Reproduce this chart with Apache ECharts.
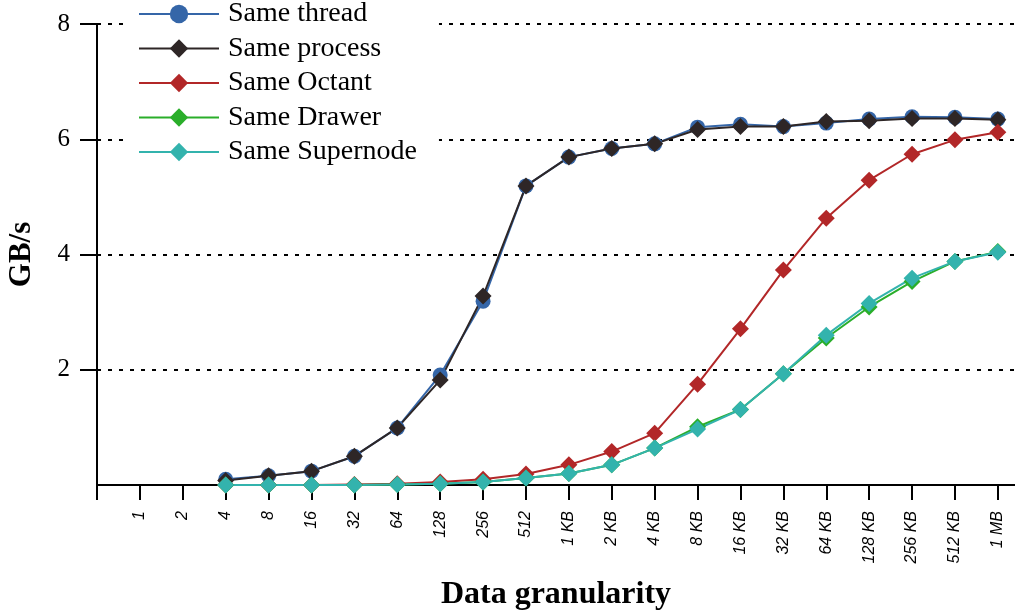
<!DOCTYPE html>
<html>
<head>
<meta charset="utf-8">
<script src="https://cdn.jsdelivr.net/npm/echarts@6/dist/echarts.min.js"></script>
<style>
  html, body { margin: 0; padding: 0; background: #fff; }
  #chart { width: 1015px; height: 613px; }
</style>
</head>
<body>
<div id="chart"></div>
<script>
// x categories (index 1..21 on the axis; index 0 is the empty slot at the y axis)
const sizes = ["1", "2", "4", "8", "16", "32", "64", "128", "256", "512",
  "1 KB", "2 KB", "4 KB", "8 KB", "16 KB", "32 KB", "64 KB", "128 KB", "256 KB", "512 KB", "1 MB"];

// GB/s, starting at "4" (index 3)
const sameThread = [0.10, 0.16, 0.24, 0.50, 0.99, 1.91, 3.19, 5.19, 5.69, 5.84, 5.92,
  6.21, 6.26, 6.22, 6.28, 6.35, 6.39, 6.38, 6.35];
const sameProcess = [0.08, 0.16, 0.24, 0.50, 0.99, 1.82, 3.28, 5.19, 5.69, 5.84, 5.92,
  6.17, 6.22, 6.22, 6.31, 6.32, 6.36, 6.36, 6.34];
const sameOctant = [0.00, 0.00, 0.00, 0.01, 0.02, 0.05, 0.10, 0.19, 0.35, 0.58, 0.90,
  1.75, 2.71, 3.73, 4.63, 5.29, 5.74, 5.99, 6.12];
const sameDrawer = [0.00, 0.00, 0.00, 0.00, 0.01, 0.02, 0.05, 0.12, 0.20, 0.35, 0.64,
  1.01, 1.31, 1.93, 2.55, 3.09, 3.53, 3.88, 4.05];
const sameSupernode = [0.00, 0.00, 0.00, 0.00, 0.01, 0.02, 0.05, 0.12, 0.20, 0.35, 0.64,
  0.97, 1.31, 1.93, 2.60, 3.15, 3.59, 3.88, 4.04];

const yTicks = [2, 4, 6, 8];
const firstIndex = 3;

function pairs(values) {
  return values.map((v, i) => [firstIndex + i, v]);
}

const SERIF = "'Liberation Serif', 'DejaVu Serif', serif";

function line(name, values, color, symbol, size) {
  return {
    name: name,
    type: "line",
    data: pairs(values),
    symbol: symbol,
    symbolSize: size,
    color: color,
    lineStyle: { width: 2, color: color },
    itemStyle: { color: color },
    emphasis: { disabled: true },
    z: 3,
  };
}

const chart = echarts.init(document.getElementById("chart"), null, { renderer: "canvas" });
chart.setOption({
  animation: false,
  backgroundColor: "#fff",
  grid: { left: 97, right: 0, top: 24, bottom: 128, containLabel: false, outerBoundsMode: "none" },
  legend: {
    left: 130,
    top: -2,
    orient: "vertical",
    backgroundColor: "#fff",
    padding: [2, 22, 6, 8],
    itemWidth: 80,
    itemHeight: 23,
    itemGap: 6.5,
    textStyle: { fontFamily: SERIF, fontSize: 28, lineHeight: 28, color: "#000", padding: [0, 0, 0, 4] },
    data: ["Same thread", "Same process", "Same Octant", "Same Drawer", "Same Supernode"],
    z: 10,
  },
  xAxis: {
    type: "value",
    min: 0,
    max: 21.4,
    interval: 1,
    axisLine: { lineStyle: { color: "#000", width: 2 } },
    axisTick: { show: true, length: 15, lineStyle: { color: "#000", width: 2 } },
    axisLabel: {
      rotate: 90,
      margin: 26,
      fontFamily: "'Liberation Sans', Arial, sans-serif",
      fontStyle: "italic",
      fontSize: 16,
      color: "#000",
      showMaxLabel: false,
      formatter: (v) => (v >= 1 && v <= sizes.length ? sizes[v - 1] : ""),
    },
    splitLine: { show: false },
    name: "Data granularity",
    nameLocation: "middle",
    nameGap: 94,
    nameTextStyle: { fontFamily: SERIF, fontSize: 32, fontWeight: "bold", color: "#000" },
  },
  yAxis: {
    type: "value",
    min: 0,
    max: 8,
    interval: 2,
    axisLine: { show: true, lineStyle: { color: "#000", width: 2 } },
    axisTick: { show: true, length: 17, customValues: yTicks, lineStyle: { color: "#000", width: 2 } },
    axisLabel: {
      customValues: yTicks,
      margin: 27,
      fontFamily: SERIF,
      fontSize: 25,
      color: "#000",
    },
    splitLine: { show: true, lineStyle: { color: "#000", width: 2, type: [4, 7] } },
    name: "GB/s",
    nameLocation: "middle",
    nameGap: 60,
    nameTextStyle: { fontFamily: SERIF, fontSize: 31, fontWeight: "bold", color: "#000" },
  },
  series: [
    line("Same thread", sameThread, "#3566a8", "circle", 15),
    line("Same process", sameProcess, "#2e2626", "diamond", 17),
    line("Same Octant", sameOctant, "#b22728", "diamond", 17),
    line("Same Drawer", sameDrawer, "#2aae2a", "diamond", 17),
    line("Same Supernode", sameSupernode, "#33b3ad", "diamond", 17),
  ],
});
</script>
</body>
</html>
